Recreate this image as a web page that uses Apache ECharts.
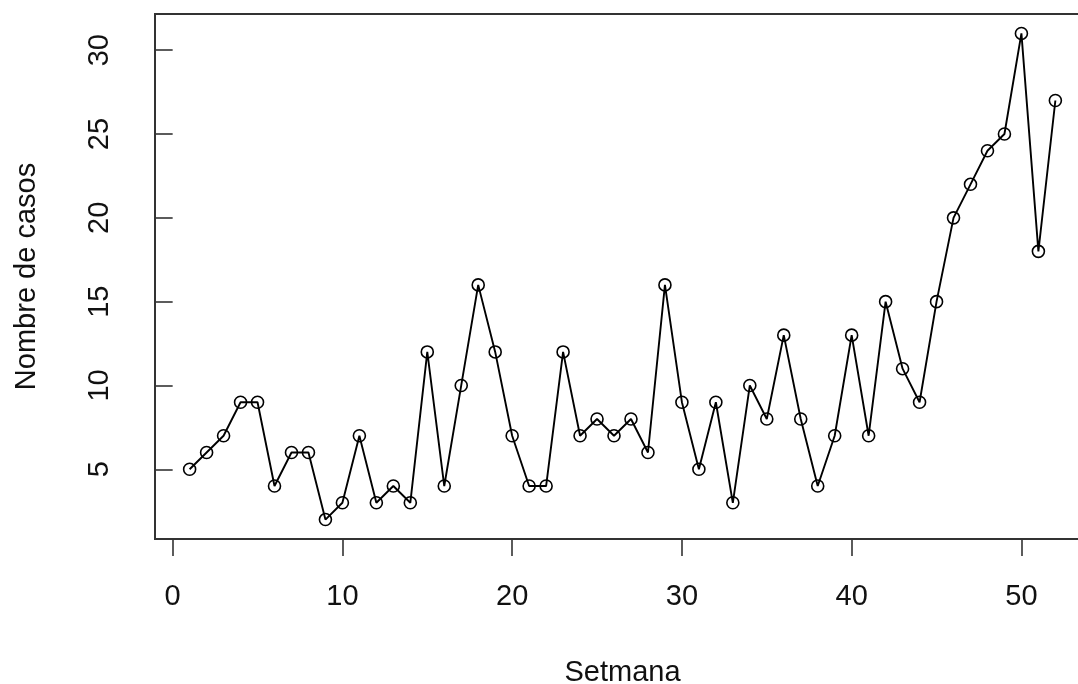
<!DOCTYPE html>
<html>
<head>
<meta charset="utf-8">
<script src="https://cdn.jsdelivr.net/npm/echarts@6/dist/echarts.min.js"></script>
<style>html,body{margin:0;padding:0;background:#fff}#c{width:1078px;height:684px}</style>
</head>
<body>
<div id="c"></div>
<script>
const weeks = [1,2,3,4,5,6,7,8,9,10,11,12,13,14,15,16,17,18,19,20,21,22,23,24,25,26,27,28,29,30,31,32,33,34,35,36,37,38,39,40,41,42,43,44,45,46,47,48,49,50,51,52];
const cases = [5,6,7,9,9,4,6,6,2,3,7,3,4,3,12,4,10,16,12,7,4,4,12,7,8,7,8,6,16,9,5,9,3,10,8,13,8,4,7,13,7,15,11,9,15,20,22,24,25,31,18,27];
const xTicks = [0,10,20,30,40,50];
const yTicks = [5,10,15,20,25,30];
const xName = 'Setmana';
const yName = 'Nombre de casos';

const points = weeks.map((w,i)=>[w,cases[i]]);
const font = 'Liberation Sans, Arial, sans-serif';
const chart = echarts.init(document.getElementById('c'), null, {renderer:'canvas'});
chart.setOption({
  animation:false,
  backgroundColor:'#fff',
  grid:{left:155, right:-12, top:14, bottom:145, show:true, borderColor:'#333', borderWidth:2, backgroundColor:'transparent', containLabel:false, outerBoundsMode:'none'},
  xAxis:{
    type:'value', min:-1.04, max:54.04,
    name:xName, nameLocation:'middle', nameGap:134,
    nameTextStyle:{fontFamily:font, fontSize:29, color:'#111', verticalAlign:'middle'},
    axisLine:{show:false},
    splitLine:{show:false},
    axisTick:{show:true, length:17, inside:false, lineStyle:{color:'#333', width:1.6}, customValues:xTicks},
    axisLabel:{fontFamily:font, fontSize:29, color:'#111', margin:58, verticalAlign:'middle', customValues:xTicks, showMinLabel:true, showMaxLabel:true}
  },
  yAxis:{
    type:'value', min:0.84, max:32.16,
    name:yName, nameLocation:'middle', nameGap:128,
    nameTextStyle:{fontFamily:font, fontSize:29, color:'#111', verticalAlign:'middle'},
    axisLine:{show:false},
    splitLine:{show:false},
    axisTick:{show:true, length:17, lineStyle:{color:'#333', width:1.6}, customValues:yTicks},
    axisLabel:{fontFamily:font, fontSize:29, color:'#111', margin:55, rotate:90, align:'center', verticalAlign:'middle', customValues:yTicks}
  },
  series:[{
    type:'line', data:points,
    symbol:'circle', symbolSize:12,
    lineStyle:{color:'#000', width:1.9},
    itemStyle:{color:'rgba(0,0,0,0)', borderColor:'#000', borderWidth:1.6},
    emphasis:{disabled:true},
    z:3
  }]
});
</script>
</body>
</html>
